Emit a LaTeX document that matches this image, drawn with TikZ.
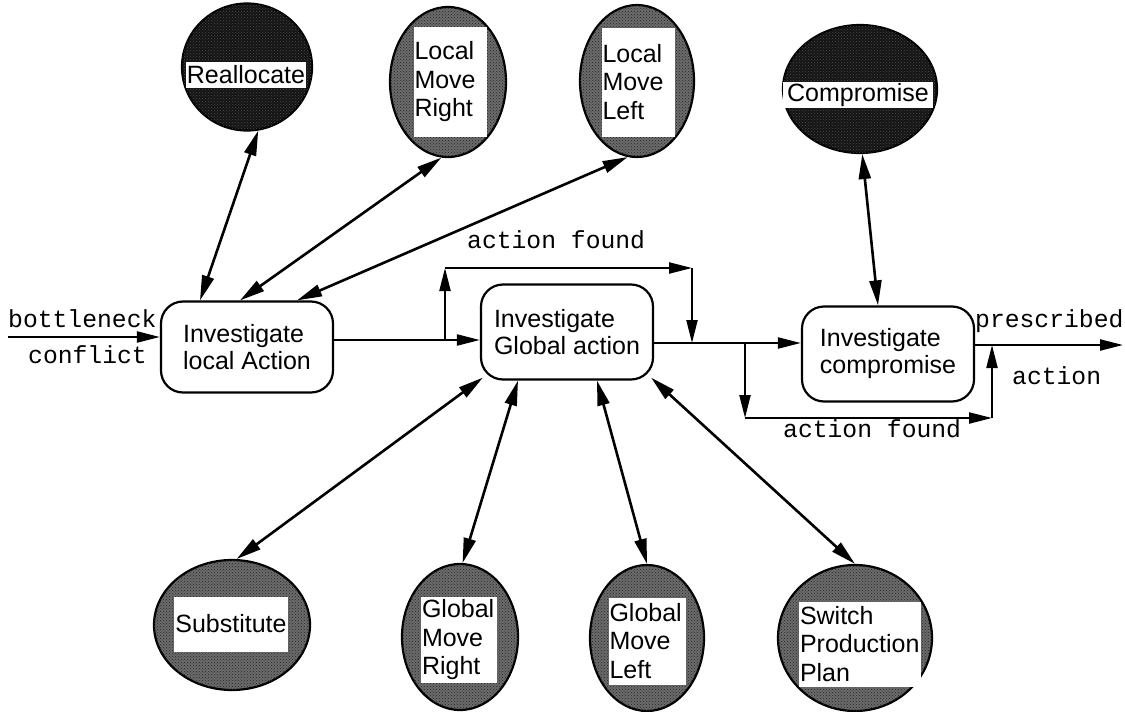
\documentclass[tikz,border=0pt]{standalone}
\usepackage{fontspec}
\setmainfont{Liberation Sans}
\setmonofont{Liberation Mono}
\usetikzlibrary{shapes.geometric,arrows.meta,calc,patterns}

\begin{document}
\begin{tikzpicture}[x=1pt,y=-1pt,
  bubble/.style={ellipse, draw=black, line width=2.2pt, fill=black!58, inner sep=0pt,
    postaction={pattern=crosshatch dots, pattern color=black!85}},
  darkbubble/.style={ellipse, draw=black, line width=2.2pt, fill=black!92, inner sep=0pt,
    postaction={pattern=crosshatch dots, pattern color=black!70}},
  tag/.style={rectangle, fill=white, inner sep=1pt, align=left,
    font=\fontsize{25}{28.5}\selectfont},
  proc/.style={rectangle, rounded corners=22pt, draw=black, line width=2.2pt,
    fill=white, align=left, inner sep=2pt, minimum width=172pt,
    font=\fontsize{25}{27}\selectfont},
  link/.style={line width=2.6pt,
    {Triangle[length=25pt,width=12pt]}-{Triangle[length=25pt,width=12pt]}},
  flow/.style={line width=2.2pt, -{Triangle[length=23pt,width=11pt]}},
  wire/.style={line width=2.2pt},
  lbl/.style={font=\ttfamily\fontsize{24.7}{27}\selectfont, inner sep=0pt, anchor=base west}
]
\useasboundingbox (0,0) rectangle (1125,712);

% ---- process boxes ----
\node[proc, minimum height=91pt] (loc)  at (247,347) {Investigate\\local Action};
\node[proc, minimum height=95pt] (glob) at (567,332) {Investigate\\Global action};
\node[proc, minimum height=95pt] (comp) at (888,354) {Investigate\\compromise};

% ---- upper action bubbles ----
\node[darkbubble, minimum width=130pt, minimum height=127pt] (real) at (247,67) {};
\node[tag, minimum width=118pt, minimum height=26pt] (realT) at (246,75) {Reallocate};

\node[bubble, minimum width=116pt, minimum height=150pt] (lmr) at (448,82) {};
\node[tag, text width=71pt, minimum height=110pt] (lmrT) at (450,82) {Local\\Move\\Right};

\node[bubble, minimum width=114pt, minimum height=152pt] (lml) at (637,81) {};
\node[tag, text width=71pt, minimum height=109pt] (lmlT) at (638,82) {Local\\Move\\Left};

\node[darkbubble, minimum width=154pt, minimum height=128pt] (cmp) at (860,89) {};
\node[tag, minimum width=150pt, minimum height=26pt] (cmpT) at (858,95) {Compromise};

% ---- lower action bubbles ----
\node[bubble, minimum width=156pt, minimum height=130pt] (sub) at (232,625) {};
\node[tag, minimum width=113pt, minimum height=55pt] (subT) at (231,624) {Substitute};

\node[bubble, minimum width=116pt, minimum height=146pt] (gmr) at (460,637) {};
\node[tag, text width=74pt, minimum height=86pt] (gmrT) at (459,640) {Global\\Move\\Right};

\node[bubble, minimum width=114pt, minimum height=146pt] (gml) at (647,638) {};
\node[tag, text width=75pt, minimum height=87pt] (gmlT) at (647,641) {Global\\Move\\Left};

\node[bubble, minimum width=154pt, minimum height=146pt] (spp) at (855,638) {};
\node[tag, text width=120pt, minimum height=85pt] (sppT) at (860,644) {Switch\\Production\\Plan};

% ---- two-way links between boxes and bubbles ----
\draw[link] ([xshift=-47pt]loc.north) -- (real.-80);
\draw[link] ([xshift=-7pt]loc.north)  -- (lmr.-95);
\draw[link] ([xshift=50pt]loc.north)  -- (lml.-97);
\draw[link] ([xshift=-10pt]comp.north) -- (cmp.-88);

\draw[link] ($(glob.south west)+(3,-3)$) -- (sub.86);
\draw[link] ([xshift=-49pt]glob.south)   -- (gmr.88);
\draw[link] ([xshift=30pt]glob.south)    -- (gml.north);
\draw[link] ($(glob.south east)+(-3,-3)$) -- (spp.north);

% ---- main flow ----
\coordinate (src)  at (8,337);
\coordinate (j1)   at (445,340);
\coordinate (c1)   at (445,268);
\coordinate (c2)   at (692,268);
\coordinate (j2)   at (692,343);
\coordinate (j3)   at (745,343);
\coordinate (c3)   at (745,418);
\coordinate (c4)   at (992,418);
\coordinate (j4)   at (992,345);
\coordinate (sink) at (1123,345);

\draw[flow] (src) -- (loc.west |- src);
\draw[wire] (loc.east |- j1) -- (j1);
\draw[flow] (j1) -- (glob.west |- j1);
\draw[flow] (j1) -- (c1);
\draw[flow] (c1) -- (c2);
\draw[flow] (c2) -- (j2);

\draw[flow] (glob.east |- j3) -- (comp.west |- j3);
\draw[flow] (j3) -- (c3);
\draw[flow] (c3) -- (c4);
\draw[flow] (c4) -- (j4);
\draw[flow] (comp.east |- sink) -- (sink);

% ---- flow labels ----
\node[lbl] (bn)  at (8,327)   {bottleneck};
\node[lbl] (cf)  at (28,363)  {conflict};
\node[lbl] (af1) at (467,248) {action found};
\node[lbl] (af2) at (783,437) {action found};
\node[lbl] (pr)  at (975,327) {prescribed};
\node[lbl] (ac)  at (1012,384) {action};
\end{tikzpicture}
\end{document}
